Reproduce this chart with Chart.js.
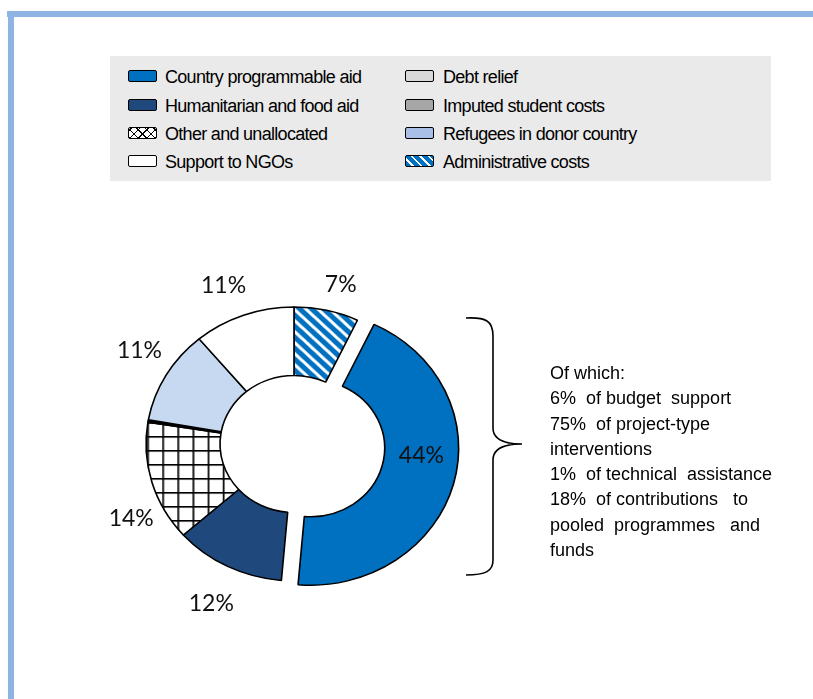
<!DOCTYPE html>
<html>
<head>
<meta charset="utf-8">
<script src="https://cdn.jsdelivr.net/npm/chart.js@4.4.1/dist/chart.umd.min.js"></script>
<style>
  html, body { margin: 0; padding: 0; }
  body { width: 813px; height: 699px; position: relative; overflow: hidden; background: #fff;
         font-family: "Liberation Sans", Arial, sans-serif; color: #000; }
  .frame-top { position: absolute; left: 7px; top: 11px; width: 806px; height: 6px; background: #8eb4e3; }
  .frame-left { position: absolute; left: 8px; top: 11px; width: 6px; height: 688px; background: #8eb4e3; }
  #legend { position: absolute; left: 110px; top: 56px; width: 661px; height: 125px; background: #eaeaea; }
  .item { position: absolute; height: 20px; line-height: 20px; font-size: 18px; letter-spacing: -0.7px; white-space: nowrap; }
  .sw { position: absolute; top: 3px; width: 27px; height: 10px; border: 1.5px solid #000; border-radius: 2px; }
  .item span { position: absolute; top: 0; }
  #chart { position: absolute; left: 60px; top: 240px; }
  #note { position: absolute; left: 550px; top: 361px; font-size: 18px; line-height: 25.3px; white-space: pre; }
  #brace { position: absolute; left: 0; top: 0; }
</style>
</head>
<body>
<div class="frame-top"></div>
<div class="frame-left"></div>
<div id="legend"></div>
<canvas id="chart" width="468" height="408"></canvas>
<svg id="brace" width="813" height="699">
  <path d="M 466 318 C 486 317, 493 321, 493 336 L 493 428 C 493 440, 505 444, 522 444 C 505 444, 493 448, 493 460 L 493 560 C 493 571, 486 575, 466 575"
        fill="none" stroke="#000" stroke-width="1.6"/>
</svg>
<div id="note"></div>
<script>
// Slices, in the order they run clockwise from the top
const categories = ['Administrative costs', 'Country programmable aid', 'Humanitarian and food aid',
  'Other and unallocated', 'Debt relief', 'Imputed student costs', 'Refugees in donor country', 'Support to NGOs'];
const shares = [7, 44, 12, 14, 0.15, 0.15, 11, 11];
const shareLabels = ['7%', '44%', '12%', '14%', '', '', '11%', '11%'];

// Legend, as it reads column by column
const legendOrder = ['Country programmable aid', 'Humanitarian and food aid', 'Other and unallocated', 'Support to NGOs',
  'Debt relief', 'Imputed student costs', 'Refugees in donor country', 'Administrative costs'];

const noteLines = ['Of which:', '6%  of budget  support', '75%  of project-type', 'interventions',
  '1%  of technical  assistance', '18%  of contributions   to', 'pooled  programmes   and', 'funds'];

// Styling
const stretchX = 1.08;     // the pie is drawn a bit wider than tall
const explodeIndex = 1;    // country programmable aid is pulled out
const explodeBy = 16;
const labelShift = [2.5, -11, -1, -10, 0, 0, 3, -2.5];   // degrees
const labelRadius = [165, 0, 177, 168, 0, 0, 171, 171];   // 0 = middle of the ring

function stripes() {
  const c = document.createElement('canvas');
  c.width = 11; c.height = 11;
  const g = c.getContext('2d');
  g.fillStyle = '#0070c0';
  g.fillRect(0, 0, 11, 11);
  g.strokeStyle = '#fff';
  g.lineWidth = 3;
  g.beginPath();
  g.moveTo(-2, -2); g.lineTo(13, 13);
  g.moveTo(-13, -2); g.lineTo(2, 13);
  g.moveTo(9, -2); g.lineTo(24, 13);
  g.stroke();
  return g.createPattern(c, 'repeat');
}

function grid() {
  const c = document.createElement('canvas');
  c.width = 14; c.height = 14;
  const g = c.getContext('2d');
  g.fillStyle = '#fff';
  g.fillRect(0, 0, 14, 14);
  g.fillStyle = '#000';
  g.fillRect(0, 0, 14, 1.6);
  g.fillRect(0, 0, 1.6, 14);
  return g.createPattern(c, 'repeat');
}

const fills = {
  'Administrative costs': stripes(),
  'Country programmable aid': '#0070c0',
  'Humanitarian and food aid': '#1f497d',
  'Other and unallocated': grid(),
  'Debt relief': '#d9d9d9',
  'Imputed student costs': '#a6a6a6',
  'Refugees in donor country': '#c6d9f1',
  'Support to NGOs': '#ffffff'
};

const swatchCss = {
  'Administrative costs': 'background: repeating-linear-gradient(45deg, #0070c0 0 4px, #fff 4px 6px);',
  'Country programmable aid': 'background: #0070c0;',
  'Humanitarian and food aid': 'background: #1f497d;',
  'Other and unallocated': 'background: repeating-linear-gradient(45deg, #000 0 1px, transparent 1px 6px), repeating-linear-gradient(-45deg, #000 0 1px, #fff 1px 6px);',
  'Debt relief': 'background: #d9d9d9;',
  'Imputed student costs': 'background: #a6a6a6;',
  'Refugees in donor country': 'background: #aabfe6;',
  'Support to NGOs': 'background: #fff;'
};

// HTML legend, two columns
const legend = document.getElementById('legend');
const rowTops = [11, 40, 68, 96];
legendOrder.forEach((name, i) => {
  const col = Math.floor(i / 4), row = i % 4;
  const el = document.createElement('div');
  el.className = 'item';
  el.style.left = (col ? 295 : 18) + 'px';
  el.style.top = rowTops[row] + 'px';
  el.innerHTML = `<div class="sw" style="${swatchCss[name]}"></div><span style="left:${col ? 38 : 37}px">${name}</span>`;
  legend.appendChild(el);
});

document.getElementById('note').textContent = noteLines.join('\n');

const shapePlugin = {
  id: 'shape',
  beforeDatasetsDraw(chart) {
    const a = chart.chartArea;
    const cx = (a.left + a.right) / 2, cy = (a.top + a.bottom) / 2;
    const arc = chart.getDatasetMeta(0).data[explodeIndex];
    const mid = (arc.startAngle + arc.endAngle) / 2;
    arc.x = cx + Math.cos(mid) * explodeBy;
    arc.y = cy + Math.sin(mid) * explodeBy;
    const ctx = chart.ctx;
    ctx.save();
    ctx.translate(cx, 0);
    ctx.scale(stretchX, 1);
    ctx.translate(-cx, 0);
  },
  afterDatasetsDraw(chart) {
    chart.ctx.restore();
  }
};

const labelPlugin = {
  id: 'shareLabels',
  afterDraw(chart) {
    const ctx = chart.ctx;
    const a = chart.chartArea;
    const cx = (a.left + a.right) / 2;
    ctx.save();
    ctx.font = '23px Lato, "Open Sans", sans-serif';
    ctx.fillStyle = '#111';
    ctx.textAlign = 'center';
    ctx.textBaseline = 'middle';
    chart.getDatasetMeta(0).data.forEach((arc, i) => {
      if (!shareLabels[i]) return;
      const mid = (arc.startAngle + arc.endAngle) / 2 + labelShift[i] * Math.PI / 180;
      const r = labelRadius[i] || (arc.innerRadius + arc.outerRadius) / 2;
      const x = cx + (arc.x - cx + Math.cos(mid) * r) * stretchX;
      const y = arc.y + Math.sin(mid) * r;
      ctx.fillText(shareLabels[i], x, y);
    });
    ctx.restore();
  }
};

new Chart(document.getElementById('chart'), {
  type: 'doughnut',
  data: {
    labels: categories,
    datasets: [{
      data: shares,
      backgroundColor: categories.map(c => fills[c]),
      borderColor: '#000',
      borderWidth: 1.5
    }]
  },
  options: {
    responsive: false,
    animation: false,
    events: [],
    radius: 137,
    cutout: '50%',
    layout: { padding: 0 },
    plugins: {
      legend: { display: false },
      tooltip: { enabled: false }
    }
  },
  plugins: [shapePlugin, labelPlugin]
});
</script>
</body>
</html>
